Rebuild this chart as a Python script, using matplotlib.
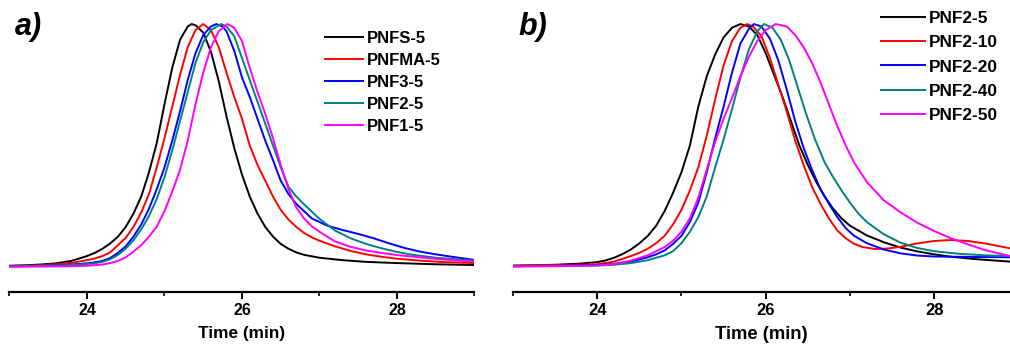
"""GPC traces of the PNF copolymer series (two panels)."""

import matplotlib

matplotlib.use("Agg")
import matplotlib.pyplot as plt
from matplotlib.ticker import MultipleLocator

plt.rcParams["font.family"] = ["Liberation Sans", "DejaVu Sans"]
plt.rcParams["font.weight"] = "bold"

COLORS = ["#000000", "#ff0000", "#0000ff", "#008080", "#ff00ff"]

# ---- panel a) : different fluoro monomers, 5 % ----
labels_a = ["PNFS-5", "PNFMA-5", "PNF3-5", "PNF2-5", "PNF1-5"]

t_pnfs5 = [23.0, 23.2, 23.4, 23.6, 23.8, 24.0, 24.1, 24.2, 24.3, 24.4, 24.5, 24.6,
           24.7, 24.8, 24.9, 25.0, 25.1, 25.2, 25.3, 25.35, 25.4, 25.5, 25.6, 25.7,
           25.8, 25.9, 26.0, 26.1, 26.2, 26.3, 26.4, 26.5, 26.6, 26.7, 26.8, 27.0,
           27.3, 27.6, 28.0, 28.5, 29.0]
y_pnfs5 = [0.005, 0.007, 0.010, 0.015, 0.025, 0.045, 0.058, 0.075, 0.097, 0.125,
           0.165, 0.22, 0.29, 0.39, 0.51, 0.67, 0.82, 0.935, 0.99, 1.0, 0.995,
           0.965, 0.885, 0.765, 0.62, 0.49, 0.38, 0.29, 0.22, 0.165, 0.125, 0.095,
           0.075, 0.06, 0.05, 0.038, 0.028, 0.021, 0.016, 0.011, 0.008]

t_pnfma5 = [23.0, 23.3, 23.6, 23.8, 24.0, 24.1, 24.2, 24.3, 24.4, 24.5, 24.6, 24.7,
            24.8, 24.9, 25.0, 25.1, 25.2, 25.3, 25.4, 25.5, 25.6, 25.7, 25.8, 25.9,
            26.0, 26.1, 26.2, 26.3, 26.4, 26.5, 26.6, 26.7, 26.8, 26.9, 27.0, 27.2,
            27.4, 27.6, 27.8, 28.0, 28.3, 28.6, 29.0]
y_pnfma5 = [0.004, 0.006, 0.011, 0.017, 0.028, 0.035, 0.045, 0.06, 0.09, 0.12,
            0.165, 0.225, 0.30, 0.41, 0.53, 0.66, 0.79, 0.905, 0.975, 1.0, 0.975,
            0.905, 0.80, 0.70, 0.61, 0.50, 0.42, 0.355, 0.29, 0.235, 0.195, 0.165,
            0.14, 0.122, 0.108, 0.085, 0.066, 0.052, 0.042, 0.034, 0.026, 0.02, 0.016]

t_pnf35 = [23.0, 23.3, 23.6, 23.8, 24.0, 24.1, 24.2, 24.3, 24.4, 24.5, 24.6, 24.7,
           24.8, 24.9, 25.0, 25.1, 25.2, 25.3, 25.4, 25.5, 25.6, 25.67, 25.75, 25.8,
           25.9, 26.0, 26.1, 26.2, 26.3, 26.4, 26.5, 26.6, 26.7, 26.8, 26.9, 27.0,
           27.1, 27.3, 27.5, 27.7, 27.9, 28.1, 28.3, 28.5, 28.75, 29.0]
y_pnf35 = [0.003, 0.004, 0.007, 0.010, 0.015, 0.019, 0.025, 0.037, 0.058, 0.085,
           0.125, 0.175, 0.24, 0.32, 0.41, 0.52, 0.64, 0.77, 0.88, 0.955, 0.99,
           1.0, 0.99, 0.97, 0.89, 0.78, 0.70, 0.61, 0.52, 0.44, 0.355, 0.30, 0.26,
           0.23, 0.20, 0.185, 0.17, 0.152, 0.136, 0.118, 0.097, 0.078, 0.063, 0.052,
           0.04, 0.029]

t_pnf25 = [23.0, 23.3, 23.6, 23.8, 24.0, 24.1, 24.2, 24.3, 24.4, 24.5, 24.6, 24.7,
           24.8, 24.9, 25.0, 25.1, 25.2, 25.3, 25.4, 25.5, 25.6, 25.73, 25.8, 25.9,
           26.0, 26.1, 26.2, 26.3, 26.4, 26.5, 26.6, 26.7, 26.8, 26.9, 27.0, 27.2,
           27.4, 27.6, 27.8, 28.0, 28.2, 28.5, 29.0]
y_pnf25 = [0.003, 0.004, 0.006, 0.008, 0.012, 0.015, 0.021, 0.032, 0.05, 0.075,
           0.11, 0.155, 0.21, 0.28, 0.37, 0.48, 0.60, 0.72, 0.84, 0.925, 0.975, 1.0,
           0.99, 0.95, 0.86, 0.77, 0.68, 0.59, 0.50, 0.41, 0.33, 0.29, 0.258, 0.228,
           0.198, 0.15, 0.118, 0.095, 0.077, 0.062, 0.05, 0.038, 0.026]

t_pnf15 = [23.0, 23.5, 23.8, 24.0, 24.2, 24.3, 24.4, 24.5, 24.6, 24.7, 24.8, 24.9,
           25.0, 25.1, 25.2, 25.3, 25.4, 25.5, 25.6, 25.7, 25.81, 25.9, 26.0, 26.1,
           26.2, 26.3, 26.4, 26.5, 26.6, 26.7, 26.8, 26.9, 27.0, 27.2, 27.4, 27.6,
           27.8, 28.0, 28.5, 29.0]
y_pnf15 = [0.001, 0.002, 0.003, 0.005, 0.01, 0.016, 0.025, 0.04, 0.063, 0.09,
           0.125, 0.166, 0.23, 0.31, 0.40, 0.52, 0.67, 0.80, 0.905, 0.97, 1.0,
           0.985, 0.93, 0.82, 0.72, 0.63, 0.53, 0.42, 0.32, 0.245, 0.20, 0.168,
           0.145, 0.105, 0.083, 0.068, 0.058, 0.049, 0.033, 0.022]

# ---- panel b) : PNF2 at increasing loading ----
labels_b = ["PNF2-5", "PNF2-10", "PNF2-20", "PNF2-40", "PNF2-50"]

t_b5 = [23.0, 23.5, 23.8, 24.0, 24.1, 24.2, 24.3, 24.4, 24.5, 24.6, 24.7, 24.8,
        24.9, 25.0, 25.1, 25.2, 25.3, 25.4, 25.5, 25.6, 25.7, 25.8, 25.9, 26.0,
        26.1, 26.2, 26.3, 26.4, 26.5, 26.6, 26.7, 26.8, 26.9, 27.0, 27.2, 27.4,
        27.6, 27.8, 28.0, 28.2, 28.5, 28.9]
y_b5 = [0.005, 0.009, 0.014, 0.02, 0.027, 0.038, 0.053, 0.072, 0.097, 0.128,
        0.17, 0.23, 0.305, 0.39, 0.50, 0.66, 0.785, 0.875, 0.945, 0.985, 1.0,
        0.99, 0.955, 0.88, 0.79, 0.70, 0.60, 0.50, 0.42, 0.35, 0.29, 0.24,
        0.20, 0.17, 0.13, 0.102, 0.08, 0.064, 0.052, 0.042, 0.032, 0.022]

t_b10 = [23.0, 23.5, 24.0, 24.2, 24.4, 24.5, 24.6, 24.7, 24.8, 24.9, 25.0, 25.1,
         25.2, 25.3, 25.4, 25.5, 25.6, 25.7, 25.78, 25.85, 25.95, 26.05, 26.15,
         26.25, 26.35, 26.45, 26.55, 26.65, 26.75, 26.85, 26.95, 27.05, 27.15,
         27.3, 27.45, 27.6, 27.8, 28.0, 28.2, 28.4, 28.6, 28.9]
y_b10 = [0.006, 0.008, 0.011, 0.022, 0.045, 0.058, 0.075, 0.098, 0.128, 0.175,
         0.235, 0.315, 0.41, 0.54, 0.69, 0.83, 0.93, 0.985, 1.0, 0.99, 0.95,
         0.86, 0.75, 0.64, 0.52, 0.42, 0.33, 0.26, 0.20, 0.15, 0.118, 0.095,
         0.082, 0.074, 0.076, 0.083, 0.097, 0.107, 0.111, 0.107, 0.097, 0.077]

t_b20 = [23.0, 23.5, 24.0, 24.2, 24.4, 24.6, 24.7, 24.8, 24.9, 25.0, 25.1, 25.2,
         25.3, 25.4, 25.5, 25.6, 25.7, 25.8, 25.86, 25.95, 26.05, 26.15, 26.25,
         26.35, 26.45, 26.55, 26.65, 26.75, 26.85, 26.95, 27.05, 27.2, 27.4, 27.6,
         27.8, 28.0, 28.5, 28.9]
y_b20 = [0.003, 0.005, 0.008, 0.013, 0.022, 0.04, 0.052, 0.068, 0.095, 0.128,
         0.185, 0.265, 0.39, 0.53, 0.66, 0.80, 0.92, 0.98, 1.0, 0.99, 0.94,
         0.85, 0.73, 0.60, 0.49, 0.40, 0.32, 0.26, 0.205, 0.16, 0.128, 0.098,
         0.072, 0.056, 0.047, 0.043, 0.041, 0.04]

t_b40 = [23.0, 23.5, 24.0, 24.2, 24.4, 24.6, 24.8, 24.9, 25.0, 25.1, 25.2, 25.3,
         25.4, 25.5, 25.6, 25.7, 25.8, 25.9, 25.98, 26.08, 26.18, 26.28, 26.38,
         26.48, 26.58, 26.7, 26.8, 26.9, 27.0, 27.1, 27.2, 27.4, 27.6, 27.8, 28.0,
         28.3, 28.6, 28.9]
y_b40 = [0.003, 0.004, 0.006, 0.009, 0.016, 0.028, 0.048, 0.065, 0.098, 0.145,
         0.205, 0.29, 0.41, 0.525, 0.65, 0.78, 0.895, 0.97, 1.0, 0.985, 0.935,
         0.85, 0.74, 0.63, 0.53, 0.43, 0.37, 0.315, 0.265, 0.22, 0.185, 0.135,
         0.10, 0.078, 0.065, 0.054, 0.048, 0.045]

t_b50 = [23.0, 23.5, 24.0, 24.2, 24.4, 24.6, 24.8, 24.9, 25.0, 25.1, 25.2, 25.3,
         25.4, 25.5, 25.6, 25.7, 25.8, 25.9, 26.0, 26.12, 26.25, 26.35, 26.45,
         26.55, 26.65, 26.75, 26.85, 26.95, 27.05, 27.2, 27.4, 27.6, 27.8, 28.0,
         28.2, 28.4, 28.6, 28.9]
y_b50 = [0.002, 0.003, 0.006, 0.012, 0.026, 0.048, 0.082, 0.108, 0.145, 0.20,
         0.285, 0.40, 0.515, 0.61, 0.695, 0.785, 0.865, 0.93, 0.975, 1.0, 0.99,
         0.955, 0.905, 0.84, 0.76, 0.67, 0.58, 0.50, 0.43, 0.35, 0.275, 0.225,
         0.182, 0.148, 0.118, 0.093, 0.07, 0.045]

series_a = [(t_pnfs5, y_pnfs5), (t_pnfma5, y_pnfma5), (t_pnf35, y_pnf35),
            (t_pnf25, y_pnf25), (t_pnf15, y_pnf15)]
series_b = [(t_b5, y_b5), (t_b10, y_b10), (t_b20, y_b20), (t_b40, y_b40), (t_b50, y_b50)]


def style_axis(ax, xmax, tick_size, label_size):
    ax.set_xlim(23, xmax)
    ax.set_ylim(-0.103, 1.099)
    for side in ("left", "right", "top"):
        ax.spines[side].set_visible(False)
    ax.spines["bottom"].set_linewidth(1.6)
    ax.set_yticks([])
    ax.xaxis.set_major_locator(MultipleLocator(2))
    ax.xaxis.set_minor_locator(MultipleLocator(1))
    ax.tick_params(axis="x", which="major", direction="out", length=5, width=1.4,
                   pad=3, labelsize=tick_size)
    ax.tick_params(axis="x", which="minor", direction="out", length=3, width=1.2)
    ax.set_xlabel("Time (min)", fontsize=label_size, fontweight="bold", labelpad=6)


def draw_panel(ax, series, labels, tag, legend_anchor, legend_size, handle_len, spacing):
    for (t, y), color, label in zip(series, COLORS, labels):
        ax.plot(t, y, color=color, linewidth=1.4, label=label)
    ax.text(0.012, 0.958, tag, transform=ax.transAxes, fontsize=22,
            fontweight="bold", fontstyle="italic", va="top", ha="left")
    ax.legend(loc="upper left", bbox_to_anchor=legend_anchor, frameon=False,
              borderaxespad=0, borderpad=0, handlelength=handle_len,
              handletextpad=0.25, labelspacing=spacing,
              prop={"size": legend_size, "weight": "bold"})


fig = plt.figure(figsize=(10.1, 3.44), dpi=100)
ax_a = fig.add_axes([0.0094, 0.1512, 0.4604, 0.8488])
ax_b = fig.add_axes([0.5079, 0.1512, 0.4921, 0.8488])

style_axis(ax_a, 29.0, 11.5, 12.4)
style_axis(ax_b, 28.9, 12, 13.2)
draw_panel(ax_a, series_a, labels_a, "a)", (0.678, 0.893), 12, 2.3, 0.42)
draw_panel(ax_b, series_b, labels_b, "b)", (0.74, 0.962), 12.4, 2.55, 0.53)

fig.savefig("out.png", dpi=100)
